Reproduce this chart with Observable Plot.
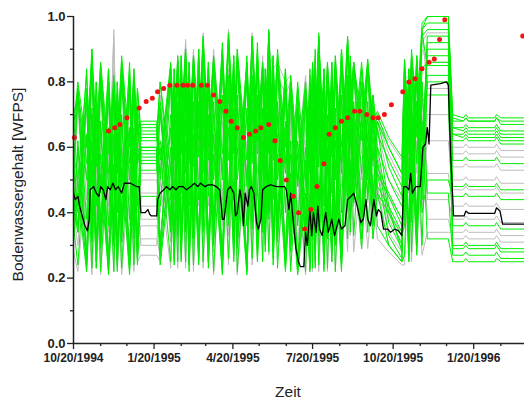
<!DOCTYPE html>
<html>
<head>
<meta charset="utf-8">
<script src="https://cdn.jsdelivr.net/npm/d3@7"></script>
<script src="https://cdn.jsdelivr.net/npm/@observablehq/plot@0.6"></script>
<style>
  html, body { margin: 0; padding: 0; background: #fff; }
</style>
</head>
<body>
<div id="chart"></div>
<script>
// ---- shared time grid of the ensemble runs ----
const dates = ["1994-10-20","1994-10-25","1994-11-04","1994-11-10","1994-11-15","1994-11-20","1994-11-29","1994-12-05","1994-12-09","1994-12-14","1994-12-23","1994-12-28","1995-01-01",
"1995-01-05","1995-01-23",
"1995-01-27","1995-02-08","1995-02-12","1995-02-16","1995-02-20","1995-02-25","1995-03-01","1995-03-06","1995-03-12","1995-03-17","1995-03-23","1995-03-29","1995-04-08","1995-04-15","1995-04-21","1995-04-25","1995-05-06","1995-05-12","1995-05-18","1995-05-24","1995-05-27","1995-05-31","1995-06-05","1995-06-10","1995-06-19","1995-06-25","1995-07-03",
"1995-07-12","1995-07-17","1995-07-20","1995-07-23","1995-07-27","1995-08-02","1995-08-06","1995-08-11","1995-08-15","1995-08-22","1995-08-29","1995-09-01","1995-09-05","1995-09-14","1995-09-21","1995-09-27","1995-10-02","1995-10-15","1995-10-30",
"1995-11-02","1995-11-07","1995-11-10","1995-11-16","1995-11-22","1995-11-28","1995-12-22","1995-12-27",
"1996-01-08","1996-01-11","1996-01-14","1996-02-13","1996-02-15","1996-02-20","1996-03-18"];

// ---- green ensemble members ----
const green1 = [0.62,0.78,0.55,0.88,0.60,0.85,0.52,0.80,0.58,0.86,0.55,0.82,0.60, 0.67,0.67,
0.50,0.85,0.62,0.87,0.64,0.90,0.60,0.88,0.62,0.93,0.60,0.87,0.52,0.94,0.62,0.88,0.50,0.93,0.62,0.85,0.63,0.95,0.60,0.88,0.55,0.80,0.50,
0.78,0.55,0.85,0.60,0.93,0.58,0.85,0.60,0.86,0.55,0.92,0.70,0.85,0.62,0.86,0.64,0.70,0.60,0.52,
0.86,0.62,0.88,0.66,0.96,1.0,1.0,0.70, 0.69,0.70,0.69,0.69,0.70,0.69,0.69];
const green2 = [0.55,0.75,0.38,0.90,0.42,0.82,0.36,0.78,0.40,0.84,0.38,0.80,0.42, 0.66,0.66,
0.42,0.82,0.44,0.86,0.46,0.88,0.42,0.86,0.44,0.92,0.45,0.85,0.38,0.93,0.46,0.87,0.36,0.94,0.45,0.84,0.50,0.95,0.44,0.86,0.40,0.78,0.36,
0.74,0.40,0.83,0.45,0.95,0.42,0.82,0.46,0.84,0.40,0.93,0.60,0.84,0.52,0.85,0.56,0.68,0.54,0.45,
0.84,0.50,0.86,0.55,0.94,0.96,0.96,0.68, 0.68,0.69,0.68,0.68,0.69,0.67,0.67];
const green3 = [0.48,0.40,0.78,0.36,0.74,0.33,0.80,0.34,0.76,0.36,0.82,0.38,0.72, 0.64,0.64,
0.74,0.40,0.80,0.38,0.84,0.40,0.82,0.37,0.86,0.40,0.84,0.36,0.88,0.42,0.86,0.35,0.84,0.40,0.88,0.38,0.80,0.44,0.86,0.36,0.82,0.34,0.76,
0.36,0.80,0.38,0.86,0.40,0.82,0.38,0.84,0.36,0.88,0.48,0.86,0.50,0.84,0.52,0.74,0.54,0.46,0.38,
0.44,0.82,0.46,0.86,0.52,0.92,0.92,0.66, 0.66,0.67,0.66,0.66,0.67,0.65,0.65];
const green4 = [0.40,0.62,0.26,0.72,0.28,0.68,0.24,0.64,0.27,0.70,0.25,0.66,0.30, 0.58,0.58,
0.30,0.70,0.30,0.74,0.32,0.78,0.28,0.74,0.30,0.80,0.30,0.74,0.25,0.82,0.32,0.76,0.24,0.82,0.32,0.72,0.36,0.84,0.30,0.74,0.26,0.62,0.23,
0.60,0.26,0.72,0.30,0.84,0.28,0.70,0.32,0.72,0.27,0.82,0.46,0.74,0.38,0.74,0.44,0.60,0.40,0.30,
0.74,0.32,0.76,0.38,0.84,0.86,0.86,0.64, 0.63,0.64,0.63,0.63,0.64,0.62,0.62];
const green5 = [0.35,0.50,0.24,0.62,0.25,0.58,0.22,0.55,0.24,0.60,0.23,0.56,0.26, 0.56,0.56,
0.26,0.60,0.26,0.64,0.27,0.68,0.24,0.64,0.26,0.70,0.25,0.64,0.22,0.72,0.27,0.66,0.22,0.72,0.27,0.62,0.30,0.74,0.26,0.64,0.23,0.52,0.22,
0.50,0.23,0.62,0.25,0.74,0.24,0.60,0.27,0.62,0.24,0.72,0.38,0.64,0.32,0.64,0.36,0.52,0.33,0.26,
0.64,0.27,0.66,0.30,0.74,0.76,0.76,0.30, 0.30,0.31,0.30,0.30,0.31,0.29,0.29];
const green6 = [0.58,0.50,0.82,0.48,0.80,0.46,0.84,0.47,0.80,0.48,0.84,0.50,0.78, 0.62,0.62,
0.80,0.52,0.84,0.54,0.88,0.52,0.86,0.54,0.90,0.52,0.86,0.50,0.90,0.56,0.88,0.50,0.86,0.55,0.90,0.54,0.84,0.58,0.88,0.50,0.84,0.48,0.80,
0.50,0.84,0.52,0.88,0.54,0.84,0.52,0.86,0.50,0.90,0.62,0.88,0.62,0.86,0.62,0.76,0.64,0.56,0.48,
0.58,0.84,0.58,0.88,0.62,0.88,0.88,0.66, 0.65,0.66,0.65,0.65,0.66,0.64,0.64];
const green7 = [0.45,0.78,0.25,0.86,0.28,0.80,0.24,0.76,0.27,0.82,0.25,0.78,0.28, 0.60,0.60,
0.28,0.80,0.28,0.84,0.30,0.88,0.26,0.84,0.28,0.92,0.28,0.84,0.24,0.94,0.30,0.86,0.23,0.93,0.30,0.82,0.34,0.95,0.28,0.86,0.24,0.76,0.22,
0.74,0.24,0.84,0.28,0.94,0.26,0.82,0.30,0.84,0.25,0.93,0.50,0.84,0.40,0.84,0.46,0.66,0.42,0.28,
0.84,0.30,0.86,0.36,0.96,0.98,0.98,0.48, 0.48,0.49,0.48,0.48,0.49,0.47,0.47];
const green8 = [0.42,0.34,0.74,0.31,0.72,0.29,0.76,0.30,0.72,0.31,0.78,0.32,0.68, 0.55,0.55,
0.70,0.34,0.76,0.33,0.80,0.34,0.78,0.32,0.82,0.34,0.78,0.30,0.84,0.36,0.80,0.29,0.80,0.35,0.84,0.34,0.76,0.38,0.80,0.31,0.76,0.28,0.70,
0.30,0.76,0.32,0.82,0.33,0.78,0.32,0.80,0.30,0.84,0.44,0.80,0.44,0.78,0.46,0.70,0.48,0.42,0.34,
0.38,0.78,0.40,0.82,0.44,0.82,0.82,0.36, 0.36,0.37,0.36,0.36,0.37,0.35,0.35];
const green9 = [0.66,0.80,0.60,0.90,0.64,0.86,0.58,0.82,0.62,0.88,0.60,0.84,0.64, 0.68,0.68,
0.56,0.86,0.66,0.88,0.68,0.90,0.64,0.88,0.66,0.94,0.66,0.88,0.58,0.95,0.66,0.90,0.56,0.94,0.66,0.86,0.68,0.96,0.64,0.90,0.60,0.82,0.56,
0.80,0.60,0.86,0.64,0.94,0.62,0.86,0.65,0.88,0.60,0.94,0.76,0.86,0.68,0.87,0.68,0.71,0.63,0.57,
0.87,0.66,0.90,0.70,0.98,1.0,1.0,0.69, 0.68,0.69,0.68,0.68,0.69,0.68,0.68];
const green10 = [0.38,0.60,0.28,0.70,0.30,0.66,0.26,0.62,0.29,0.68,0.27,0.64,0.31, 0.60,0.60,
0.31,0.66,0.32,0.70,0.33,0.74,0.30,0.70,0.32,0.76,0.31,0.70,0.27,0.78,0.32,0.72,0.25,0.78,0.33,0.68,0.37,0.80,0.31,0.70,0.27,0.58,0.24,
0.56,0.27,0.68,0.31,0.80,0.30,0.66,0.33,0.68,0.29,0.78,0.44,0.70,0.36,0.70,0.40,0.56,0.37,0.29,
0.70,0.30,0.72,0.34,0.80,0.46,0.46,0.27, 0.27,0.28,0.27,0.27,0.28,0.26,0.26];
const green11 = [0.52,0.42,0.84,0.38,0.80,0.37,0.84,0.38,0.80,0.40,0.86,0.42,0.78, 0.65,0.65,
0.80,0.44,0.84,0.43,0.88,0.44,0.86,0.42,0.90,0.44,0.86,0.40,0.92,0.46,0.88,0.38,0.88,0.44,0.92,0.42,0.84,0.48,0.88,0.40,0.84,0.36,0.78,
0.38,0.82,0.40,0.90,0.42,0.84,0.40,0.86,0.38,0.90,0.54,0.86,0.56,0.84,0.58,0.76,0.60,0.50,0.42,
0.48,0.84,0.50,0.88,0.54,0.94,0.94,0.64, 0.64,0.65,0.64,0.64,0.65,0.63,0.63];
const green12 = [0.44,0.34,0.64,0.33,0.62,0.32,0.66,0.33,0.62,0.34,0.66,0.35,0.60, 0.57,0.57,
0.62,0.37,0.68,0.36,0.72,0.37,0.70,0.35,0.74,0.37,0.70,0.33,0.76,0.38,0.72,0.31,0.72,0.37,0.76,0.36,0.68,0.40,0.72,0.33,0.68,0.30,0.62,
0.31,0.68,0.33,0.76,0.34,0.70,0.33,0.72,0.31,0.76,0.42,0.72,0.43,0.70,0.44,0.64,0.46,0.40,0.33,
0.36,0.70,0.37,0.74,0.40,0.50,0.50,0.45, 0.45,0.46,0.45,0.45,0.46,0.44,0.44];
const green13 = [0.32,0.46,0.22,0.56,0.23,0.52,0.21,0.50,0.22,0.54,0.21,0.50,0.24, 0.45,0.45,
0.24,0.54,0.24,0.58,0.25,0.62,0.22,0.58,0.24,0.64,0.23,0.58,0.21,0.66,0.25,0.60,0.21,0.66,0.25,0.56,0.28,0.68,0.24,0.58,0.22,0.48,0.21,
0.46,0.22,0.56,0.23,0.68,0.22,0.54,0.25,0.56,0.22,0.66,0.34,0.58,0.29,0.58,0.32,0.46,0.30,0.25,
0.58,0.25,0.60,0.27,0.68,0.32,0.32,0.25, 0.25,0.26,0.25,0.25,0.26,0.25,0.25];
const green14 = [0.70,0.76,0.50,0.86,0.54,0.82,0.48,0.80,0.52,0.84,0.50,0.80,0.55, 0.63,0.63,
0.52,0.84,0.56,0.86,0.58,0.88,0.55,0.86,0.57,0.90,0.56,0.86,0.50,0.92,0.58,0.86,0.48,0.92,0.58,0.84,0.60,0.94,0.56,0.86,0.52,0.78,0.48,
0.76,0.52,0.84,0.56,0.92,0.54,0.84,0.57,0.85,0.52,0.92,0.70,0.86,0.62,0.84,0.64,0.68,0.60,0.52,
0.85,0.58,0.86,0.63,0.95,0.85,0.85,0.62, 0.62,0.63,0.62,0.62,0.63,0.61,0.61];
const green15 = [0.46,0.36,0.76,0.32,0.72,0.30,0.78,0.32,0.74,0.33,0.80,0.34,0.70, 0.59,0.59,
0.72,0.36,0.78,0.35,0.82,0.36,0.80,0.34,0.84,0.36,0.80,0.32,0.86,0.38,0.82,0.30,0.82,0.37,0.86,0.36,0.78,0.40,0.82,0.33,0.78,0.30,0.72,
0.32,0.78,0.34,0.84,0.35,0.80,0.34,0.82,0.32,0.86,0.48,0.82,0.48,0.80,0.50,0.72,0.52,0.45,0.36,
0.40,0.80,0.42,0.84,0.46,0.90,0.90,0.56, 0.56,0.57,0.56,0.56,0.57,0.55,0.55];
const green16 = [0.36,0.24,0.64,0.23,0.62,0.22,0.64,0.22,0.60,0.23,0.66,0.24,0.58, 0.53,0.53,
0.60,0.25,0.66,0.25,0.70,0.25,0.68,0.24,0.72,0.25,0.68,0.22,0.74,0.26,0.70,0.22,0.70,0.26,0.74,0.25,0.66,0.28,0.70,0.23,0.66,0.22,0.58,
0.22,0.66,0.23,0.74,0.24,0.68,0.23,0.70,0.22,0.74,0.32,0.70,0.33,0.68,0.34,0.60,0.36,0.30,0.25,
0.27,0.68,0.28,0.74,0.30,0.80,0.80,0.29, 0.29,0.30,0.29,0.29,0.30,0.28,0.28];

// ---- grey ensemble members ----
const grey1 = [0.50,0.72,0.34,0.84,0.38,0.80,0.34,0.96,0.40,0.82,0.36,0.80,0.40, 0.50,0.50,
0.40,0.80,0.42,0.84,0.44,0.93,0.40,0.86,0.42,0.95,0.42,0.86,0.36,0.96,0.44,0.86,0.36,0.92,0.44,0.84,0.46,0.96,0.44,0.86,0.40,0.80,0.40,
0.77,0.40,0.82,0.44,0.92,0.42,0.82,0.45,0.84,0.40,0.92,0.58,0.82,0.50,0.82,0.54,0.66,0.50,0.44,
0.82,0.46,0.84,0.52,0.92,0.95,0.95,0.58, 0.58,0.59,0.58,0.58,0.59,0.57,0.57];
const grey2 = [0.40,0.30,0.72,0.27,0.70,0.26,0.74,0.27,0.70,0.28,0.74,0.29,0.68, 0.42,0.42,
0.72,0.31,0.76,0.32,0.84,0.31,0.78,0.30,0.84,0.31,0.78,0.28,0.86,0.33,0.80,0.27,0.84,0.33,0.86,0.34,0.80,0.40,0.82,0.36,0.78,0.34,0.72,
0.30,0.74,0.31,0.82,0.31,0.74,0.32,0.76,0.30,0.82,0.40,0.76,0.42,0.74,0.43,0.64,0.44,0.40,0.34,
0.36,0.76,0.38,0.82,0.42,0.70,0.70,0.50, 0.50,0.51,0.50,0.50,0.51,0.49,0.49];
const grey3 = [0.34,0.54,0.24,0.64,0.25,0.60,0.23,0.78,0.25,0.62,0.24,0.60,0.27, 0.32,0.32,
0.27,0.60,0.28,0.64,0.28,0.75,0.26,0.66,0.28,0.76,0.27,0.66,0.23,0.80,0.28,0.68,0.23,0.78,0.28,0.64,0.32,0.80,0.30,0.74,0.30,0.70,0.30,
0.62,0.24,0.64,0.27,0.76,0.25,0.62,0.28,0.64,0.25,0.76,0.38,0.66,0.33,0.66,0.36,0.54,0.34,0.28,
0.66,0.28,0.68,0.32,0.76,0.52,0.52,0.42, 0.42,0.43,0.42,0.42,0.43,0.41,0.41];
const grey4 = [0.56,0.76,0.44,0.86,0.46,0.84,0.42,0.92,0.46,0.84,0.44,0.82,0.48, 0.46,0.46,
0.48,0.82,0.50,0.86,0.52,0.92,0.48,0.88,0.50,0.92,0.50,0.88,0.44,0.94,0.52,0.88,0.44,0.94,0.52,0.86,0.56,0.90,0.78,0.82,0.76,0.80,0.50,
0.80,0.48,0.84,0.52,0.90,0.50,0.84,0.53,0.86,0.48,0.90,0.66,0.84,0.58,0.84,0.60,0.68,0.58,0.50,
0.84,0.54,0.86,0.58,0.90,0.86,0.86,0.54, 0.54,0.55,0.54,0.54,0.55,0.53,0.53];
const grey5 = [0.30,0.48,0.22,0.58,0.23,0.54,0.22,0.70,0.23,0.56,0.22,0.54,0.25, 0.27,0.27,
0.25,0.56,0.25,0.60,0.26,0.70,0.24,0.62,0.25,0.70,0.25,0.62,0.22,0.76,0.26,0.64,0.22,0.72,0.26,0.58,0.30,0.74,0.28,0.70,0.28,0.66,0.26,
0.56,0.22,0.60,0.24,0.70,0.23,0.56,0.25,0.58,0.23,0.70,0.33,0.60,0.29,0.60,0.32,0.48,0.30,0.25,
0.60,0.25,0.62,0.28,0.70,0.38,0.38,0.32, 0.32,0.33,0.32,0.32,0.33,0.31,0.31];
const grey6 = [0.46,0.36,0.76,0.32,0.74,0.31,0.80,0.32,0.74,0.33,0.78,0.34,0.72, 0.38,0.38,
0.76,0.37,0.80,0.37,0.86,0.36,0.82,0.36,0.88,0.36,0.82,0.33,0.90,0.38,0.84,0.32,0.86,0.38,0.88,0.40,0.84,0.66,0.80,0.62,0.78,0.42,0.74,
0.34,0.78,0.36,0.86,0.37,0.78,0.38,0.80,0.35,0.86,0.48,0.80,0.48,0.78,0.50,0.70,0.52,0.45,0.38,
0.40,0.80,0.42,0.86,0.46,0.62,0.62,0.47, 0.47,0.48,0.47,0.47,0.48,0.46,0.46];
const grey7 = [0.38,0.58,0.27,0.70,0.29,0.66,0.27,0.84,0.29,0.68,0.27,0.66,0.31, 0.36,0.36,
0.31,0.66,0.32,0.70,0.33,0.80,0.30,0.72,0.32,0.82,0.31,0.72,0.27,0.84,0.33,0.74,0.27,0.82,0.33,0.70,0.37,0.84,0.60,0.72,0.56,0.72,0.36,
0.66,0.28,0.68,0.31,0.80,0.29,0.68,0.32,0.70,0.29,0.80,0.42,0.70,0.36,0.70,0.40,0.58,0.38,0.31,
0.70,0.32,0.72,0.36,0.80,0.44,0.44,0.38, 0.38,0.39,0.38,0.38,0.39,0.37,0.37];
const grey8 = [0.60,0.78,0.50,0.88,0.52,0.86,0.48,0.94,0.52,0.86,0.50,0.84,0.54, 0.52,0.52,
0.54,0.84,0.58,0.88,0.60,0.92,0.56,0.90,0.58,0.94,0.58,0.90,0.52,0.96,0.58,0.90,0.52,0.95,0.60,0.88,0.64,0.92,0.84,0.86,0.80,0.82,0.56,
0.82,0.56,0.86,0.58,0.94,0.56,0.86,0.60,0.88,0.56,0.93,0.72,0.86,0.64,0.86,0.66,0.69,0.62,0.56,
0.86,0.60,0.88,0.64,0.96,0.78,0.78,0.60, 0.60,0.61,0.60,0.60,0.61,0.59,0.59];
const grey9 = [0.28,0.22,0.52,0.21,0.50,0.21,0.58,0.22,0.50,0.21,0.54,0.22,0.48, 0.30,0.30,
0.50,0.23,0.54,0.23,0.62,0.23,0.56,0.22,0.64,0.23,0.56,0.21,0.68,0.24,0.58,0.21,0.62,0.24,0.66,0.26,0.60,0.27,0.62,0.26,0.58,0.24,0.52,
0.21,0.54,0.22,0.62,0.22,0.54,0.22,0.56,0.22,0.62,0.28,0.56,0.28,0.54,0.29,0.48,0.32,0.28,0.24,
0.24,0.56,0.25,0.62,0.27,0.34,0.34,0.34, 0.34,0.35,0.34,0.34,0.35,0.33,0.33];

// ---- black reference run ----
const blackDates = ["1994-10-20","1994-10-22","1994-10-25","1994-10-27","1994-10-29","1994-11-02","1994-11-05","1994-11-07","1994-11-08","1994-11-12","1994-11-15","1994-11-18","1994-11-20","1994-11-23","1994-11-26","1994-11-28","1994-12-01","1994-12-04","1994-12-07","1994-12-10","1994-12-14","1994-12-17","1994-12-24","1994-12-31",
"1995-01-03","1995-01-05","1995-01-10","1995-01-13","1995-01-15","1995-01-17","1995-01-23","1995-01-24","1995-01-27","1995-01-31","1995-02-03","1995-02-07","1995-02-10","1995-02-14","1995-02-17","1995-02-22","1995-02-26","1995-03-03","1995-03-07","1995-03-11","1995-03-14","1995-03-19","1995-03-23","1995-03-28",
"1995-04-01","1995-04-05","1995-04-08","1995-04-10","1995-04-14","1995-04-17","1995-04-21","1995-04-23","1995-04-25","1995-04-28","1995-04-30","1995-05-02","1995-05-04","1995-05-07","1995-05-09","1995-05-11","1995-05-14","1995-05-17","1995-05-19","1995-05-22","1995-05-24","1995-05-28",
"1995-06-02","1995-06-09","1995-06-13","1995-06-18","1995-06-20","1995-06-23","1995-06-25","1995-06-27","1995-07-01","1995-07-04","1995-07-06","1995-07-10","1995-07-12","1995-07-14","1995-07-17","1995-07-19","1995-07-21","1995-07-24","1995-07-26","1995-07-28","1995-07-31",
"1995-08-04","1995-08-07","1995-08-11","1995-08-14","1995-08-19","1995-08-22","1995-08-26","1995-08-29","1995-09-02","1995-09-05","1995-09-09","1995-09-13","1995-09-16","1995-09-19","1995-09-21","1995-09-24","1995-09-28",
"1995-10-01","1995-10-03","1995-10-06","1995-10-09","1995-10-14","1995-10-17","1995-10-22","1995-10-26","1995-10-30","1995-11-01","1995-11-04","1995-11-07","1995-11-09","1995-11-11","1995-11-15","1995-11-20","1995-11-23","1995-11-26","1995-11-28","1995-11-30",
"1995-12-02","1995-12-13","1995-12-20","1995-12-22","1995-12-25","1995-12-28","1996-01-09","1996-01-11","1996-01-14","1996-02-13","1996-02-15","1996-02-19","1996-02-22","1996-03-18"];
const blackValues = [0.46,0.44,0.45,0.42,0.40,0.36,0.345,0.38,0.47,0.48,0.46,0.45,0.48,0.47,0.44,0.48,0.47,0.49,0.47,0.48,0.46,0.49,0.49,0.48,
0.48,0.40,0.40,0.41,0.395,0.39,0.39,0.44,0.46,0.47,0.48,0.47,0.48,0.47,0.48,0.48,0.47,0.48,0.49,0.48,0.49,0.48,0.485,0.485,
0.48,0.47,0.38,0.38,0.47,0.48,0.46,0.39,0.40,0.47,0.44,0.36,0.46,0.42,0.47,0.48,0.46,0.37,0.35,0.38,0.47,0.48,
0.485,0.48,0.48,0.48,0.47,0.41,0.46,0.40,0.29,0.25,0.235,0.235,0.34,0.30,0.41,0.33,0.40,0.34,0.42,0.35,0.33,
0.40,0.34,0.38,0.33,0.38,0.35,0.36,0.44,0.45,0.46,0.42,0.37,0.38,0.44,0.38,0.36,0.44,
0.39,0.41,0.40,0.35,0.35,0.34,0.35,0.345,0.33,0.48,0.48,0.47,0.52,0.46,0.48,0.48,0.60,0.61,0.66,0.61,
0.79,0.795,0.80,0.79,0.56,0.39,0.39,0.405,0.398,0.398,0.415,0.405,0.365,0.365];

// ---- red measured points ----
const measDates = ["1994-10-21","1994-11-29","1994-12-06","1994-12-12","1994-12-20","1995-01-03","1995-01-11","1995-01-18","1995-01-24","1995-01-31","1995-02-07","1995-02-15","1995-02-22","1995-02-27","1995-03-05","1995-03-15","1995-03-22","1995-03-29","1995-04-05","1995-04-12","1995-04-18","1995-04-25","1995-05-02","1995-05-09","1995-05-16","1995-05-22","1995-05-31","1995-06-07","1995-06-13","1995-06-20","1995-06-28","1995-07-04","1995-07-11","1995-07-18","1995-07-25","1995-08-02","1995-08-08","1995-08-15","1995-08-22","1995-08-29","1995-09-06","1995-09-12","1995-09-20","1995-09-27","1995-10-03","1995-10-10","1995-10-18","1995-10-31","1995-11-07","1995-11-14","1995-11-22","1995-11-30","1995-12-06","1995-12-12","1995-12-18","1996-03-16"];
const measValues = [0.63,0.65,0.66,0.67,0.69,0.72,0.74,0.75,0.77,0.78,0.79,0.79,0.79,0.79,0.79,0.79,0.79,0.76,0.74,0.71,0.68,0.66,0.63,0.64,0.65,0.66,0.67,0.62,0.56,0.50,0.45,0.40,0.35,0.41,0.48,0.55,0.64,0.66,0.68,0.69,0.71,0.71,0.70,0.69,0.69,0.70,0.73,0.77,0.80,0.81,0.84,0.86,0.87,0.93,0.99,0.94];

// ---- axis ticks ----
const xMajor = ["1994-10-20","1995-01-20","1995-04-20","1995-07-20","1995-10-20","1996-01-20"];
const xMajorLabels = ["10/20/1994","1/20/1995","4/20/1995","7/20/1995","10/20/1995","1/20/1996"];
const xMinor = ["1994-11-20","1994-12-20","1995-02-20","1995-03-20","1995-05-20","1995-06-20","1995-08-20","1995-09-20","1995-11-20","1995-12-20","1996-02-20"];
const yMajor = [0, 0.2, 0.4, 0.6, 0.8, 1.0];
const yMinor = [0.1, 0.3, 0.5, 0.7, 0.9];
const xStart = "1994-10-20", xEnd = "1996-03-18";
const xTitle = "Zeit";
const yTitle = "Bodenwassergehalt [WFPS]";

const greens = [green1,green2,green3,green4,green5,green6,green7,green8,green9,green10,green11,green12,green13,green14,green15,green16];
const greys = [grey1,grey2,grey3,grey4,grey5,grey6,grey7,grey8,grey9];

function toRows(list, prefix) {
  const out = [];
  list.forEach((vals, s) => {
    const n = Math.min(vals.length, dates.length);
    for (let i = 0; i < n; i++) out.push({date: new Date(dates[i]), value: vals[i], id: prefix + s});
  });
  return out;
}
const greenRows = toRows(greens, "g");
const greyRows = toRows(greys, "k");
const blackRows = blackDates.map((d, i) => ({date: new Date(d), value: blackValues[i]}));
const measRows = measDates.map((d, i) => ({date: new Date(d), value: measValues[i]}));

const font = "'Liberation Sans', Arial, Helvetica, sans-serif";
const axisColor = "#222";

const chart = Plot.plot({
  width: 524,
  height: 406,
  marginLeft: 73,
  marginRight: 0,
  marginTop: 16,
  marginBottom: 63,
  style: {fontFamily: font, background: "#fff"},
  x: {type: "utc", domain: [new Date(xStart), new Date(xEnd)], axis: null},
  y: {domain: [0, 1], axis: null},
  marks: [
    Plot.line(greyRows, {x: "date", y: "value", z: "id", stroke: "#bdbdbd", strokeWidth: 1, clip: true}),
    Plot.line(greenRows, {x: "date", y: "value", z: "id", stroke: "#00ee00", strokeWidth: 1, clip: true}),
    Plot.line(blackRows, {x: "date", y: "value", stroke: "#000", strokeWidth: 1.3, clip: true}),
    Plot.dot(measRows, {x: "date", y: "value", r: 2.5, fill: "#f01515", stroke: "none"}),
    Plot.ruleY([0], {stroke: axisColor, strokeWidth: 1.5}),
    Plot.ruleX([new Date(xStart)], {stroke: axisColor, strokeWidth: 1.5}),
    Plot.axisX(xMajor.map(d => new Date(d)), {
      tickSize: 6, tickPadding: 4, stroke: axisColor, strokeWidth: 1.3,
      tickFormat: (d, i) => xMajorLabels[i], fontSize: 12, fontWeight: "bold", fill: axisColor, label: null
    }),
    Plot.axisX(xMinor.map(d => new Date(d)), {
      tickSize: 3, stroke: axisColor, strokeWidth: 1.3, tickFormat: () => "", label: null
    }),
    Plot.axisY(yMajor, {
      tickSize: 6, tickPadding: 2, stroke: axisColor, strokeWidth: 1.3,
      tickFormat: d => d.toFixed(1), fontSize: 13, fontWeight: "bold", fill: axisColor, label: null
    }),
    Plot.axisY(yMinor, {
      tickSize: 3, stroke: axisColor, strokeWidth: 1.3, tickFormat: () => "", label: null
    }),
    Plot.text([xTitle], {frameAnchor: "bottom", dx: -11, dy: 53, fontSize: 15.5, fill: "#222"}),
    Plot.text([yTitle], {frameAnchor: "left", textAnchor: "middle", rotate: -90, dx: -55, dy: 4.5, fontSize: 15.5, fill: "#222"})
  ]
});
document.getElementById("chart").appendChild(chart);
</script>
</body>
</html>
